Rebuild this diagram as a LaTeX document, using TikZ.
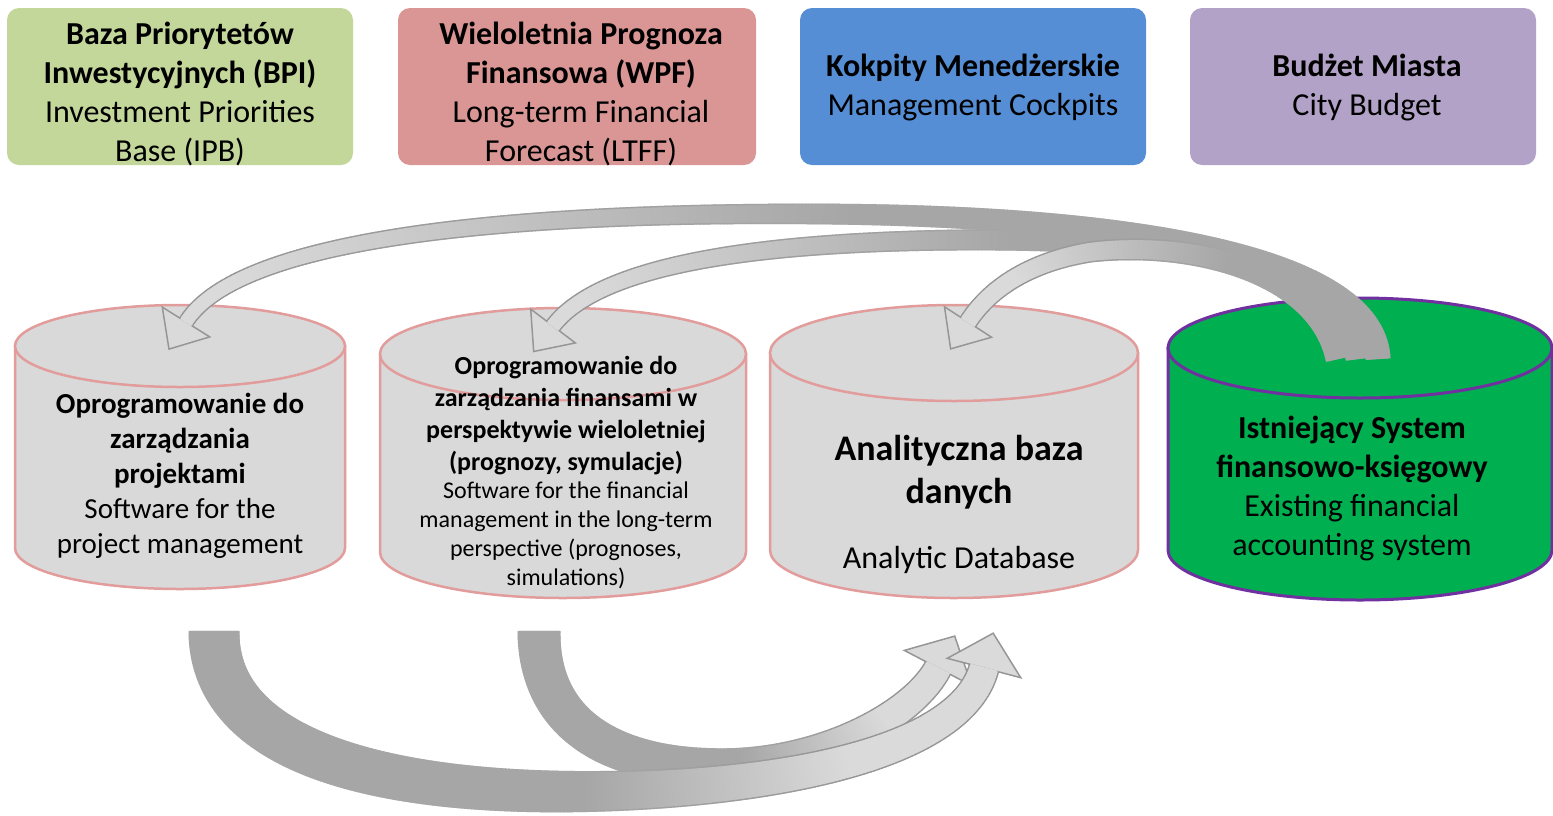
\documentclass[tikz,border=0pt]{standalone}
\usepackage{fontspec}
\setmainfont{Carlito}
\usetikzlibrary{decorations.markings}
\definecolor{boxgreen}{RGB}{196,215,155}
\definecolor{boxred}{RGB}{217,150,148}
\definecolor{boxblue}{RGB}{85,142,213}
\definecolor{boxpurple}{RGB}{179,162,199}
\definecolor{cylgrey}{RGB}{217,217,217}
\definecolor{cylpink}{RGB}{226,156,156}
\definecolor{cylgreen}{RGB}{0,176,80}
\definecolor{cylpurple}{RGB}{112,48,160}
\definecolor{gdark}{RGB}{166,166,166}
\definecolor{glight}{RGB}{218,218,218}
\definecolor{gline}{RGB}{150,150,150}

% gradient block arrow: #1 start width, #2 end width, #3/#4 gradient range, #5 head half width, #6 head length, #7 path
\newcommand\gradarrow[7]{%
  \pgfmathsetmacro\gaend{#2/2}%
  % pass 1: outline
  \path[decorate,decoration={markings,
    mark=between positions 0 and 1 step 1.4pt with {%
      \pgfmathsetmacro\gat{\pgfkeysvalueof{/pgf/decoration/mark info/distance from start}/\pgfdecoratedpathlength}%
      \pgfmathsetmacro\gao{(#1+(#2-#1)*\gat)/2+1.5}%
      \pgfmathsetmacro\gap{100*min(1,max(0,(\gat-#3)/(#4-#3)))}%
      \colorlet{galine}{gline!\gap!gdark}%
      \fill[galine] (-1.1pt,-\gao pt) rectangle (1.1pt,\gao pt);%
    }}] #7;
  % pass 2: fill
  \path[decorate,decoration={markings,
    mark=between positions 0 and 1 step 1.4pt with {%
      \pgfmathsetmacro\gat{\pgfkeysvalueof{/pgf/decoration/mark info/distance from start}/\pgfdecoratedpathlength}%
      \pgfmathsetmacro\gaw{(#1+(#2-#1)*\gat)/2}%
      \pgfmathsetmacro\gap{100*min(1,max(0,(\gat-#3)/(#4-#3)))}%
      \colorlet{gafill}{glight!\gap!gdark}%
      \fill[gafill] (-1.1pt,-\gaw pt) rectangle (1.1pt,\gaw pt);%
    }}] #7;
  % head
  \path[decorate,decoration={markings,
    mark=at position 1 with {%
      \filldraw[fill=glight,draw=gline,line width=1.5pt,line join=miter] (0pt,#5pt) -- (#6pt,0pt) -- (0pt,-#5pt) -- cycle;%
      \fill[glight] (-3pt,-\gaend pt) rectangle (0.8pt,\gaend pt);%
    }}] #7;
}

\newcommand\drawcyl[7]{% cx, ytop, ybottom, rx, ry, fill, line
  \filldraw[fill=#6,draw=#7] (#1-#4,#2) -- (#1-#4,#3) arc[start angle=180,end angle=0,x radius=#4,y radius=#5] -- (#1+#4,#2) -- cycle;
  \filldraw[fill=#6,draw=#7] (#1,#2) ellipse[x radius=#4,y radius=#5];
}

\begin{document}
\begin{tikzpicture}[x=1pt,y=-1pt,
  topbox/.style={rounded corners=12pt,draw=none,inner sep=0pt},
  lbl/.style={align=center,inner sep=0pt,text=black},
  fbig/.style={font=\fontsize{32}{39}\selectfont},
  greycyl/.style={line width=2.5pt},
  greencyl/.style={line width=3pt}]
\useasboundingbox (0,0) rectangle (1553,815);

% top boxes
\node[topbox,fill=boxgreen,minimum width=346pt,minimum height=157pt] (b1) at (180,86.5) {};
\node[topbox,fill=boxred,minimum width=358pt,minimum height=157pt] (b2) at (577,86.5) {};
\node[topbox,fill=boxblue,minimum width=346pt,minimum height=157pt] (b3) at (973,86.5) {};
\node[topbox,fill=boxpurple,minimum width=346pt,minimum height=157pt] (b4) at (1363,86.5) {};

% cylinders
\begin{scope}[greycyl]
\drawcyl{180}{346}{548}{165}{41}{cylgrey}{cylpink}
\drawcyl{563}{354}{552}{183}{46}{cylgrey}{cylpink}
\drawcyl{954}{353}{550}{184}{48}{cylgrey}{cylpink}
\end{scope}
\begin{scope}[greencyl]
\drawcyl{1360}{348}{550}{192}{50}{cylgreen}{cylpurple}
\end{scope}

% connector end points
\coordinate (a0) at (1378,358); \coordinate (a1) at (186,322);
\coordinate (bb0) at (1358,358); \coordinate (bb1) at (553,326);
\coordinate (cc0) at (1338,358); \coordinate (cc1) at (968,322);
\coordinate (d0) at (214,632); \coordinate (d1) at (984,668);
\coordinate (e0) at (539,632); \coordinate (e1) at (938,668);

% top arrows
\gradarrow{22}{13}{0.45}{0.95}{28}{32}{(a0) .. controls (1372,262) and (1150,216) .. (820,214) .. controls (520,212) and (240,236) .. (a1)}
\gradarrow{22}{14}{0.45}{0.95}{28}{32}{(bb0) .. controls (1345,255) and (1160,238) .. (960,240) .. controls (760,242) and (600,264) .. (bb1)}
\gradarrow{22}{16}{0.35}{0.85}{28}{32}{(cc0) .. controls (1318,270) and (1190,240) .. (1090,252) .. controls (1030,262) and (990,288) .. (cc1)}

% bottom arrows
\gradarrow{40}{26}{0.55}{0.85}{38}{36}{(e0) .. controls (539,730) and (620,770) .. (730,766) .. controls (830,762) and (915,712) .. (e1)}
\gradarrow{48}{28}{0.50}{0.80}{38}{36}{(d0) .. controls (214,765) and (420,800) .. (640,790) .. controls (830,781) and (965,740) .. (d1)}

% texts
\node[lbl,fbig] (b1t) at (180,94) {\textbf{Baza Priorytetów}\\\textbf{Inwestycyjnych (BPI)}\\Investment Priorities\\Base (IPB)};
\node[lbl,fbig] (b2t) at (581,94) {\textbf{Wieloletnia Prognoza}\\\textbf{Finansowa (WPF)}\\Long-term Financial\\Forecast (LTFF)};
\node[lbl,fbig] (b3t) at (973,87) {\textbf{Kokpity Menedżerskie}\\Management Cockpits};
\node[lbl,fbig] (b4t) at (1367,87) {\textbf{Budżet Miasta}\\City Budget};

\node[lbl,font=\fontsize{29}{35}\selectfont] (c1) at (180,476) {\textbf{Oprogramowanie do}\\\textbf{zarządzania}\\\textbf{projektami}\\Software for the\\project management};
\node[lbl,font=\fontsize{26}{32}\selectfont\bfseries] (c2) at (566,416) {Oprogramowanie do\\zarządzania finansami w\\perspektywie wieloletniej\\(prognozy, symulacje)};
\node[lbl,font=\fontsize{24}{29}\selectfont] (c2e) at (566,535) {Software for the financial\\management in the long-term\\perspective (prognoses,\\simulations)};
\node[lbl,font=\fontsize{36}{43}\selectfont\bfseries] (c3) at (959,472) {Analityczna baza\\danych};
\node[lbl,font=\fontsize{32}{39}\selectfont] (c3e) at (959,560) {Analytic Database};
\node[lbl,fbig] (c4) at (1352,489) {\textbf{Istniejący System}\\\textbf{finansowo-księgowy}\\Existing financial\\accounting system};
\end{tikzpicture}
\end{document}
